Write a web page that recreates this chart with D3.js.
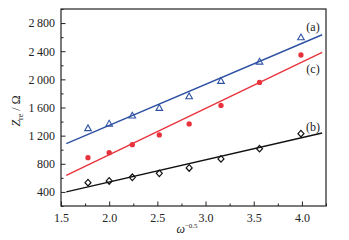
<!DOCTYPE html>
<html>
<head>
<meta charset="utf-8">
<script src="https://cdn.jsdelivr.net/npm/d3@7"></script>
<style>
  body { margin: 0; background: #fff; }
  text { font-family: "Liberation Serif", "DejaVu Serif", serif; }
</style>
</head>
<body>
<div id="chart"></div>
<script>
const xValues = [1.78, 2.0, 2.24, 2.52, 2.83, 3.16, 3.56, 3.99];
const seriesA = [1305, 1370, 1484, 1593, 1758, 1977, 2251, 2596];
const seriesC = [887, 958, 1072, 1210, 1366, 1630, 1957, 2346];
const seriesB = [532, 556, 608, 664, 741, 869, 1015, 1228];

// Fitted lines, endpoints.
const fitX = [1.555, 4.21];
const fitA = [1086, 2634];
const fitC = [636, 2383];
const fitB = [400, 1238];

const xTicks = [1.5, 2.0, 2.5, 3.0, 3.5, 4.0];
const yTicks = [400, 800, 1200, 1600, 2000, 2400, 2800];

const config = {
    width: 349,
    height: 240,
    margin: {top: 9, right: 23, bottom: 34, left: 61}
};

const svg = d3.select('#chart').append('svg')
    .attr('width', config.width)
    .attr('height', config.height);

const innerW = config.width - config.margin.left - config.margin.right;
const innerH = config.height - config.margin.top - config.margin.bottom;

const chart = svg.append('g')
    .attr('transform', `translate(${config.margin.left},${config.margin.top})`);

const xScale = d3.scaleLinear().domain([1.5, 4.25]).range([0, innerW]);
const yScale = d3.scaleLinear().domain([200, 3000]).range([innerH, 0]);

const fmtY = d => d >= 1000 ? d3.format('d')(d).replace(/^(\d)(\d{3})$/, '$1\u2009$2') : d;

// Axes: ticks point inward, minor ticks between.
chart.append('g')
    .attr('transform', `translate(0,${innerH})`)
    .call(d3.axisBottom(xScale).tickValues(d3.range(1.75, 4.3, 0.5)).tickSize(-2.5).tickFormat(''))
    .call(g => g.select('.domain').remove());
chart.append('g')
    .attr('transform', `translate(0,${innerH})`)
    .call(d3.axisBottom(xScale).tickValues(xTicks).tickSize(-4.5).tickPadding(7).tickFormat(d3.format('.1f')))
    .call(g => g.select('.domain').remove())
    .call(g => g.selectAll('text').attr('font-size', 12).attr('fill', '#222'));

chart.append('g')
    .call(d3.axisLeft(yScale).tickValues(d3.range(200, 3001, 400)).tickSize(-2.5).tickFormat(''))
    .call(g => g.select('.domain').remove());
chart.append('g')
    .call(d3.axisLeft(yScale).tickValues(yTicks).tickSize(-4.5).tickPadding(6).tickFormat(fmtY))
    .call(g => g.select('.domain').remove())
    .call(g => g.selectAll('text').attr('font-size', 12).attr('fill', '#222'));

chart.selectAll('.tick line').attr('stroke', '#222');

// Frame.
chart.append('rect')
    .attr('width', innerW)
    .attr('height', innerH)
    .attr('fill', 'none')
    .attr('stroke', '#222')
    .attr('stroke-width', 1.2);

const line = d3.line().x(d => xScale(d[0])).y(d => yScale(d[1]));

const series = [
    {fit: fitA, pts: seriesA, color: '#2e51a2', shape: 'tri'},
    {fit: fitC, pts: seriesC, color: '#e8333d', shape: 'dot'},
    {fit: fitB, pts: seriesB, color: '#111', shape: 'dia'}
];

series.forEach(s => {
    chart.append('path')
        .datum(fitX.map((x, i) => [x, s.fit[i]]))
        .attr('d', line)
        .attr('fill', 'none')
        .attr('stroke', s.color)
        .attr('stroke-width', 1.4);

    const pts = chart.selectAll(null)
        .data(xValues.map((x, i) => [x, s.pts[i]]))
        .join('path')
        .attr('transform', d => `translate(${xScale(d[0])},${yScale(d[1])})`);

    if (s.shape === 'tri') {
        pts.attr('d', 'M0,-3.4L3.3,2.4L-3.3,2.4Z')
            .attr('fill', 'none').attr('stroke', s.color).attr('stroke-width', 1.1);
    } else if (s.shape === 'dot') {
        pts.attr('d', d3.symbol(d3.symbolCircle, 22)())
            .attr('fill', s.color);
    } else {
        pts.attr('d', 'M0,-3.3L3,0L0,3.3L-3,0Z')
            .attr('fill', 'none').attr('stroke', s.color).attr('stroke-width', 1.2);
    }
});

// Series labels.
const labels = [['(a)', 27], ['(c)', 69], ['(b)', 127]];
labels.forEach(([t, y]) => {
    svg.append('text')
        .attr('x', 313)
        .attr('y', y)
        .attr('dy', '0.35em')
        .attr('text-anchor', 'middle')
        .attr('font-size', 12)
        .attr('fill', '#222')
        .text(t);
});

// Axis titles.
const yTitle = svg.append('text')
    .attr('transform', 'translate(20,111) rotate(-90)')
    .attr('text-anchor', 'middle')
    .attr('font-size', 12)
    .attr('fill', '#222');
yTitle.append('tspan').attr('font-style', 'italic').text('Z');
yTitle.append('tspan').attr('font-size', 8).attr('dy', 3).text('re');
yTitle.append('tspan').attr('dy', -3).text(' / Ω');

const xTitle = svg.append('text')
    .attr('x', 187)
    .attr('y', 233)
    .attr('text-anchor', 'middle')
    .attr('font-size', 12)
    .attr('fill', '#222');
xTitle.append('tspan').attr('font-style', 'italic').text('ω');
xTitle.append('tspan').attr('font-size', 7).attr('dy', -5).text('−0.5');
</script>
</body>
</html>
